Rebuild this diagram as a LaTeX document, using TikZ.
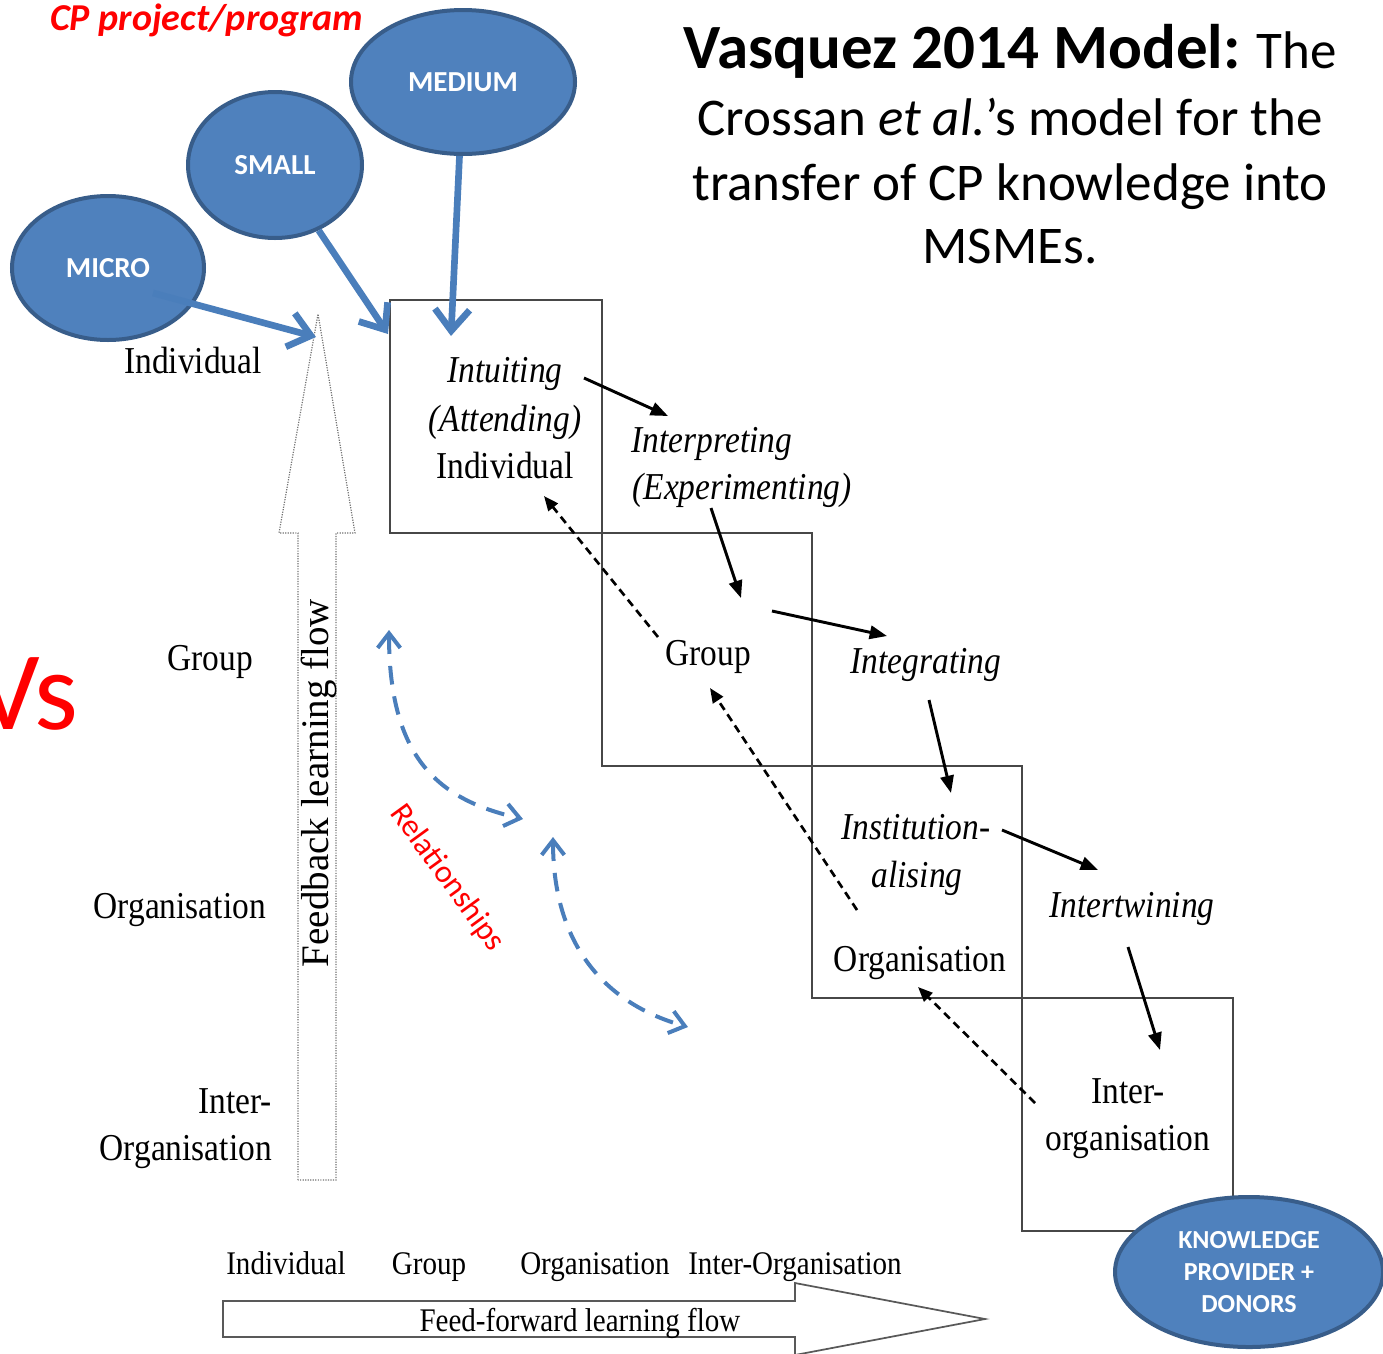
\documentclass[tikz,border=0pt]{standalone}
\usepackage{fontspec}
\usetikzlibrary{arrows.meta,shapes.geometric,fit,calc}
\newfontfamily\calibri{Carlito}
\newfontfamily\tms[FakeStretch=0.88]{Liberation Serif}
\newfontfamily\tmsn{Liberation Serif}
\definecolor{ellfill}{HTML}{4F81BD}
\definecolor{elldraw}{HTML}{385D8A}
\definecolor{arrblue}{HTML}{4A7EBB}
\begin{document}
\begin{tikzpicture}[x=0.75pt,y=-0.75pt,
  blob/.style={ellipse, fill=ellfill, draw=elldraw, line width=3pt, text=white,
    font=\calibri\bfseries\fontsize{21.75pt}{26pt}\selectfont, inner sep=0, align=center},
  stepbox/.style={draw=black!72, line width=1.5pt, inner sep=0},
  lbl/.style={font=\tms\fontsize{28.5pt}{34pt}\selectfont, inner sep=0, anchor=base},
  ilbl/.style={font=\tms\itshape\fontsize{28.5pt}{34pt}\selectfont, inner sep=0, anchor=base},
  blbl/.style={font=\tms\fontsize{24.75pt}{30pt}\selectfont, inner sep=0, anchor=base},
  ttl/.style={font=\calibri\fontsize{39.75pt}{48pt}\selectfont, inner sep=0, anchor=base},
  bigarrow/.style={draw=arrblue, line width=5pt, -{Straight Barb[length=16pt,width=26pt]}},
  flow/.style={black, line width=2.2pt, -{Triangle[length=13pt,width=10pt]}},
  fback/.style={black, line width=2pt, dash pattern=on 6pt off 4pt, -{Triangle[length=11pt,width=9pt]}},
  rel/.style={draw=arrblue, line width=3pt, dash pattern=on 14pt off 9pt,
    {Straight Barb[length=11pt,width=17pt]}-{Straight Barb[length=11pt,width=17pt]}}
]
\useasboundingbox (0,0) rectangle (1383,1353);

% title
\node[ttl] (title1) at (1010,68) {{\bfseries\fontsize{47.25pt}{56pt}\selectfont Vasquez 2014 Model:} The};
\node[ttl] (title2) at (1010,135) {Crossan \textit{et al.}’s model for the};
\node[ttl] (title3) at (1010,200) {transfer of CP knowledge into};
\node[ttl] (title4) at (1010,263) {MSMEs.};

\node[anchor=base west, inner sep=0, text=red, font=\calibri\bfseries\itshape\fontsize{28.5pt}{34pt}\selectfont] (cp) at (50,30) {CP project/program};
\node[anchor=base east, inner sep=0, text=red, font=\calibri\fontsize{84pt}{90pt}\selectfont] (vs) at (79,729) {Vs};

% staircase boxes
\node[stepbox, fit={(390,300)(602,533)}] (box1) {};
\node[stepbox, fit={(602,533)(812,766)}] (box2) {};
\node[stepbox, fit={(812,766)(1022,998)}] (box3) {};
\node[stepbox, fit={(1022,998)(1233,1231)}] (box4) {};

% feedback arrow (vertical)
\draw[black!55, line width=0.9pt, densely dotted] (298,1180) -- (298,533) -- (279,533) -- (318,314) -- (355,533) -- (336,533) -- (336,1180) -- cycle;
\node[rotate=90, anchor=base, inner sep=0, font=\tmsn\fontsize{29.25pt}{34pt}\selectfont] (fbtext) at (328,783) {Feedback learning flow};

% feed-forward arrow (horizontal)
\draw[black!65, line width=1.3pt] (223,1301) -- (795,1301) -- (795,1283) -- (985,1319) -- (795,1355) -- (795,1337) -- (223,1337) -- cycle;
\node[blbl] (fftext) at (580,1331) {Feed-forward learning flow};

% bottom labels
\node[blbl] (bindiv) at (286,1274) {Individual};
\node[blbl] (bgroup) at (429,1274) {Group};
\node[blbl] (borg) at (595,1274) {Organisation};
\node[blbl] (binter) at (795,1274) {Inter-Organisation};

% left labels
\node[lbl, anchor=base east] (lindiv) at (262,373) {Individual};
\node[lbl, anchor=base east] (lgroup) at (253,670) {Group};
\node[lbl, anchor=base east] (lorg) at (266,918) {Organisation};
\node[lbl, anchor=base east] (linter) at (272,1113) {Inter-};
\node[lbl, anchor=base east] (linterorg) at (272,1160) {Organisation};

% box texts
\node[ilbl] (intuit) at (505,382) {Intuiting};
\node[ilbl] (attend) at (505,431) {(Attending)};
\node[lbl] (indiv) at (505,478) {Individual};
\node[ilbl] (interp) at (712,452) {Interpreting};
\node[ilbl] (exper) at (742,499) {(Experimenting)};
\node[lbl] (grp) at (708,665) {Group};
\node[ilbl] (integ) at (926,673) {Integrating};
\node[ilbl] (inst) at (916,839) {Institution-};
\node[ilbl] (alis) at (917,887) {alising};
\node[ilbl] (intertw) at (1132,917) {Intertwining};
\node[lbl] (orgbox) at (920,971) {Organisation};
\node[lbl] (inter) at (1128,1103) {Inter-};
\node[lbl] (interorg) at (1128,1150) {organisation};

% feed-forward process arrows
\draw[flow] ($(intuit.base)+(79,-4)$) -- ($(interp.base)+(-44,-36)$);
\draw[flow] ($(exper.base)+(-31,9)$) -- ($(grp.base)+(33,-67)$);
\draw[flow] ($(grp.base)+(64,-54)$) -- ($(integ.base)+(-39,-37)$);
\draw[flow] ($(integ.base)+(3,27)$) -- ($(inst.base)+(35,-46)$);
\draw[flow] ($(inst.base)+(86,-9)$) -- ($(intertw.base)+(-34,-47)$);
\draw[flow] ($(intertw.base)+(-4,30)$) -- ($(inter.base)+(32,-53)$);

% feedback dashed arrows
\draw[fback] ($(grp.base)+(-50,-28)$) -- ($(indiv.base)+(39,18)$);
\draw[fback] ($(orgbox.base)+(-63,-61)$) -- ($(grp.base)+(2,23)$);
\draw[fback] ($(inter.base)+(-93,0)$) -- ($(orgbox.base)+(-2,16)$);

% relationships
\coordinate (r1a) at (389,630);
\coordinate (r1b) at (523,819);
\coordinate (r2a) at (553,837);
\coordinate (r2b) at (688,1027);
\draw[rel] (r1a) .. controls (389,760) and (440,800) .. (r1b);
\draw[rel] (r2a) .. controls (553,950) and (610,1005) .. (r2b);
\node[rotate=-54, text=red, inner sep=0, font=\calibri\fontsize{24pt}{28pt}\selectfont] (reltext) at (447,878) {Relationships};

% enterprise ellipses
\node[blob, minimum width=168pt, minimum height=108pt] (medium) at (463,82) {MEDIUM};
\node[blob, minimum width=130.5pt, minimum height=109.5pt] (small) at (275,165) {SMALL};
\node[blob, minimum width=144pt, minimum height=108pt] (micro) at (108,268) {MICRO};
\node[blob, minimum width=201pt, minimum height=112.5pt, font=\calibri\bfseries\fontsize{19.5pt}{24pt}\selectfont] (kp) at (1249,1272) {KNOWLEDGE\\PROVIDER +\\DONORS};

\coordinate (fbtip) at (316,337);
\coordinate (smalltip) at (388,334);
\coordinate (medtip) at (451,336);
\draw[bigarrow] ($(micro.center)+(45,25)$) -- (fbtip);
\draw[bigarrow] (small) -- (smalltip);
\draw[bigarrow] (medium) -- (medtip);
\end{tikzpicture}
\end{document}
